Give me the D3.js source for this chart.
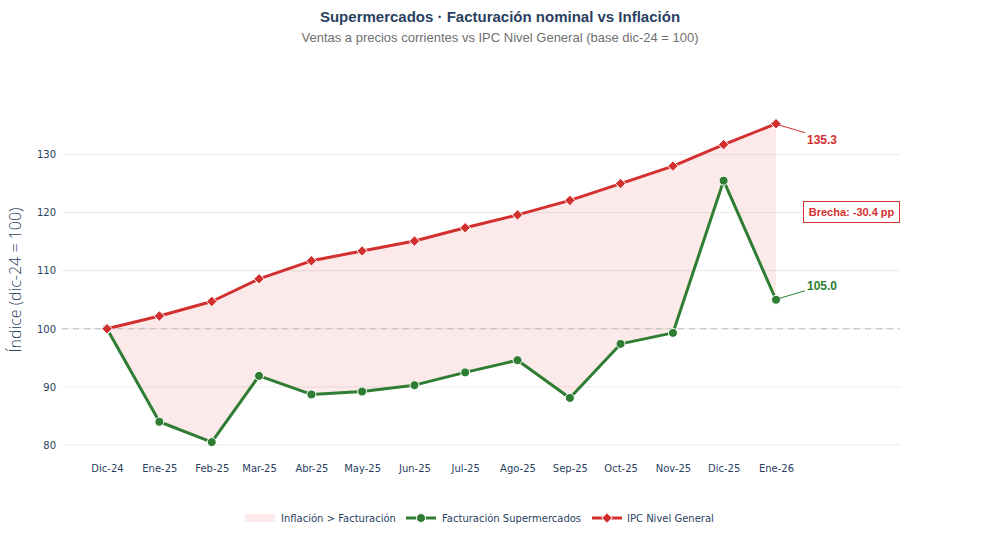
<!DOCTYPE html>
<html>
<head>
<meta charset="utf-8">
<script src="https://cdn.jsdelivr.net/npm/d3@7"></script>
<style>
  body { margin: 0; background: #fff; }
</style>
</head>
<body>
<div id="canvas"></div>
<script>
"use strict"

/* Data */
let months = ["2024-12-01", "2025-01-01", "2025-02-01", "2025-03-01", "2025-04-01", "2025-05-01",
    "2025-06-01", "2025-07-01", "2025-08-01", "2025-09-01", "2025-10-01", "2025-11-01",
    "2025-12-01", "2026-01-01"];
let monthLabels = ["Dic-24", "Ene-25", "Feb-25", "Mar-25", "Abr-25", "May-25", "Jun-25",
    "Jul-25", "Ago-25", "Sep-25", "Oct-25", "Nov-25", "Dic-25", "Ene-26"];
let facturacion = [100, 84.0, 80.5, 91.9, 88.7, 89.2, 90.3, 92.5, 94.6, 88.1, 97.4, 99.3, 125.5, 105.0];
let ipc = [100, 102.2, 104.7, 108.6, 111.7, 113.4, 115.1, 117.4, 119.6, 122.1, 125.0, 128.0, 131.7, 135.3];
let yTicks = [80, 90, 100, 110, 120, 130];

let parse = d3.utcParse("%Y-%m-%d");
let dates = months.map(parse);
let rows = dates.map((d, i) => ({ date: d, label: monthLabels[i], fact: facturacion[i], ipc: ipc[i] }));

let red = "#d32f2f";
let green = "#2e7d32";
let navy = "#2a3f5f";
let tickFont = "'DejaVu Sans', Verdana, sans-serif";

/* Canvas */
let drawing = d3.select("#canvas")
    .append("svg")
    .attr("width", 1000)
    .attr("height", 550)
    .style("font-family", tickFont);

let plotLeft = 62, plotRight = 900;

/* Scales */
let x = d3.scaleUtc()
    .domain([dates[0], dates[dates.length - 1]])
    .range([107, 776]);

let y = d3.scaleLinear()
    .domain([80, 130])
    .range([445, 154.5]);

/* Grid */
let grid = drawing.append("g");
grid.selectAll("line")
    .data(yTicks)
    .join("line")
    .attr("x1", plotLeft)
    .attr("x2", plotRight)
    .attr("y1", d => y(d))
    .attr("y2", d => y(d))
    .attr("stroke", "#ebebeb")
    .attr("stroke-width", 1);

/* Y axis tick labels */
let yAxis = drawing.append("g")
    .attr("transform", `translate(${plotLeft},0)`)
    .call(d3.axisLeft(y).tickValues(yTicks).tickSize(0).tickPadding(6));
yAxis.select(".domain").remove();
yAxis.selectAll("text")
    .attr("fill", navy)
    .style("font-size", "10px")
    .style("font-family", tickFont);

/* X axis tick labels */
let xAxis = drawing.append("g")
    .attr("transform", "translate(0,459)")
    .call(d3.axisBottom(x).tickValues(dates).tickSize(0).tickPadding(6)
        .tickFormat((d, i) => monthLabels[i]));
xAxis.select(".domain").remove();
xAxis.selectAll("text")
    .attr("fill", navy)
    .style("font-size", "10px")
    .style("font-family", tickFont);

/* Y axis title */
drawing.append("text")
    .attr("transform", "translate(21,280) rotate(-90)")
    .attr("text-anchor", "middle")
    .attr("fill", navy)
    .style("font-family", "'Open Sans', sans-serif")
    .style("font-weight", "300")
    .style("font-size", "16px")
    .text("Índice (dic-24 = 100)");

/* Gap fill */
let gapArea = d3.area()
    .x(d => x(d.date))
    .y0(d => y(d.fact))
    .y1(d => y(d.ipc));

drawing.append("path")
    .datum(rows)
    .attr("d", gapArea)
    .attr("fill", "rgba(229,57,53,0.11)");

/* Base 100 reference line */
drawing.append("line")
    .attr("x1", plotLeft)
    .attr("x2", plotRight)
    .attr("y1", y(100))
    .attr("y2", y(100))
    .attr("stroke", "#bdbdbd")
    .attr("stroke-width", 1)
    .attr("stroke-dasharray", "6,5");

/* Lines */
let factLine = d3.line().x(d => x(d.date)).y(d => y(d.fact));
let ipcLine = d3.line().x(d => x(d.date)).y(d => y(d.ipc));

drawing.append("path")
    .datum(rows)
    .attr("d", factLine)
    .attr("fill", "none")
    .attr("stroke", green)
    .attr("stroke-width", 3)
    .attr("stroke-linejoin", "round");

drawing.append("g")
    .selectAll("circle")
    .data(rows)
    .join("circle")
    .attr("cx", d => x(d.date))
    .attr("cy", d => y(d.fact))
    .attr("r", 4.5)
    .attr("fill", green)
    .attr("stroke", "#fff")
    .attr("stroke-width", 1);

drawing.append("path")
    .datum(rows)
    .attr("d", ipcLine)
    .attr("fill", "none")
    .attr("stroke", red)
    .attr("stroke-width", 3)
    .attr("stroke-linejoin", "round");

let diamond = d3.symbol().type(d3.symbolDiamond2).size(70);
drawing.append("g")
    .selectAll("path")
    .data(rows)
    .join("path")
    .attr("transform", d => `translate(${x(d.date)},${y(d.ipc)})`)
    .attr("d", diamond)
    .attr("fill", red)
    .attr("stroke", "#fff")
    .attr("stroke-width", 1);

/* End annotations */
let last = rows[rows.length - 1];
let lx = x(last.date);

drawing.append("line")
    .attr("x1", lx + 2).attr("y1", y(last.ipc) + 1)
    .attr("x2", lx + 29).attr("y2", y(last.ipc) + 9)
    .attr("stroke", red).attr("stroke-width", 1);
drawing.append("text")
    .attr("x", lx + 31)
    .attr("y", y(last.ipc) + 20)
    .attr("fill", red)
    .style("font-family", "'Liberation Sans', Arial, sans-serif")
    .style("font-weight", "bold")
    .style("font-size", "12px")
    .text(last.ipc.toFixed(1));

drawing.append("line")
    .attr("x1", lx + 2).attr("y1", y(last.fact) - 1)
    .attr("x2", lx + 29).attr("y2", y(last.fact) - 9)
    .attr("stroke", green).attr("stroke-width", 1);
drawing.append("text")
    .attr("x", lx + 31)
    .attr("y", y(last.fact) - 10)
    .attr("fill", green)
    .style("font-family", "'Liberation Sans', Arial, sans-serif")
    .style("font-weight", "bold")
    .style("font-size", "12px")
    .text(last.fact.toFixed(1));

/* Gap box */
drawing.append("rect")
    .attr("x", 803.5).attr("y", 201.5)
    .attr("width", 96).attr("height", 21)
    .attr("fill", "#fff")
    .attr("stroke", red)
    .attr("stroke-width", 1);
drawing.append("text")
    .attr("x", 851.5).attr("y", 216)
    .attr("text-anchor", "middle")
    .attr("fill", red)
    .style("font-family", "'Liberation Sans', Arial, sans-serif")
    .style("font-weight", "bold")
    .style("font-size", "11px")
    .text("Brecha: -30.4 pp");

/* Titles */
drawing.append("text")
    .attr("x", 500).attr("y", 22)
    .attr("text-anchor", "middle")
    .attr("fill", navy)
    .style("font-family", "'Liberation Sans', Arial, sans-serif")
    .style("font-weight", "bold")
    .style("font-size", "15px")
    .text("Supermercados · Facturación nominal vs Inflación");

drawing.append("text")
    .attr("x", 500).attr("y", 42)
    .attr("text-anchor", "middle")
    .attr("fill", "#707070")
    .style("font-family", "'Liberation Sans', Arial, sans-serif")
    .style("font-size", "13px")
    .text("Ventas a precios corrientes vs IPC Nivel General (base dic-24 = 100)");

/* Legend */
let legend = drawing.append("g").attr("transform", "translate(0,518)");

legend.append("rect")
    .attr("x", 245).attr("y", -4)
    .attr("width", 30).attr("height", 8)
    .attr("fill", "rgba(229,57,53,0.11)");
legend.append("text")
    .attr("x", 281).attr("y", 3.5)
    .attr("fill", navy).style("font-size", "10px")
    .text("Inflación > Facturación");

legend.append("line")
    .attr("x1", 406).attr("x2", 436)
    .attr("stroke", green).attr("stroke-width", 3);
legend.append("circle")
    .attr("cx", 421).attr("r", 4.5)
    .attr("fill", green).attr("stroke", "#fff").attr("stroke-width", 1);
legend.append("text")
    .attr("x", 442).attr("y", 3.5)
    .attr("fill", navy).style("font-size", "10px")
    .text("Facturación Supermercados");

legend.append("line")
    .attr("x1", 592).attr("x2", 622)
    .attr("stroke", red).attr("stroke-width", 3);
legend.append("path")
    .attr("transform", "translate(607,0)")
    .attr("d", diamond)
    .attr("fill", red).attr("stroke", "#fff").attr("stroke-width", 1);
legend.append("text")
    .attr("x", 627).attr("y", 3.5)
    .attr("fill", navy).style("font-size", "10px")
    .text("IPC Nivel General");
</script>
</body>
</html>
